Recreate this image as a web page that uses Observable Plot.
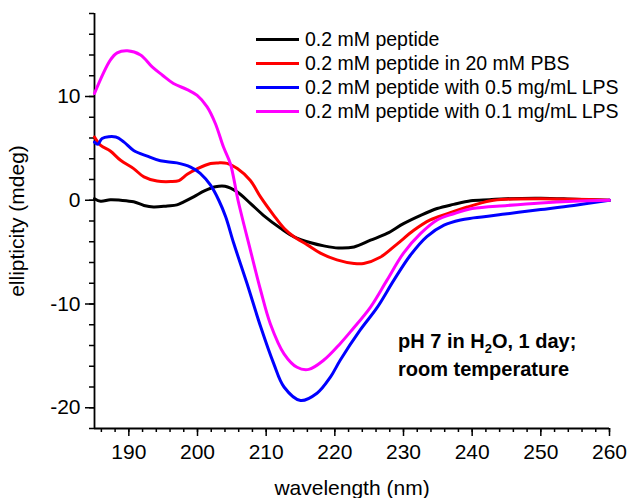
<!DOCTYPE html>
<html>
<head>
<meta charset="utf-8">
<script src="https://cdn.jsdelivr.net/npm/d3@7"></script>
<script src="https://cdn.jsdelivr.net/npm/@observablehq/plot@0.6"></script>
<style>
  body { margin: 0; background: #fff; font-family: "Liberation Sans", Arial, sans-serif; }
  #wrap { position: relative; width: 629px; height: 498px; }
  .legend { position: absolute; left: 256px; top: 27px; font-size: 19.5px; color: #000; }
  .legend .row { height: 24px; display: flex; align-items: center; white-space: nowrap; }
  .legend .sw { width: 43px; height: 3px; margin-right: 6px; }
  .note { position: absolute; left: 398px; top: 327px; font-weight: bold; font-size: 20px; line-height: 28px; color: #000; white-space: nowrap; }
  .note sub { font-size: 13px; line-height: 0; vertical-align: -0.35em; }
</style>
</head>
<body>
<div id="wrap"></div>
<script>
// ---- data ----
const seriesNames = [
  "0.2 mM peptide",
  "0.2 mM peptide in 20 mM PBS",
  "0.2 mM peptide with 0.5 mg/mL LPS",
  "0.2 mM peptide with 0.1 mg/mL LPS"
];
const seriesColors = ["#000000", "#ff0000", "#0000ff", "#ff00ff"];

const peptideWl = [185,185.9,187.3,188.8,190.7,192.2,193.6,195.6,197.0,198.0,199.5,201.0,202.6,204.0,205.8,207.7,209.6,212.1,214.0,216.5,218.4,220.5,222.8,225.2,227.6,230.0,232.5,234.9,237.3,239.8,242.5,245,250,255,260];
const peptideV  = [0.15,-0.1,0.05,0.0,-0.15,-0.5,-0.65,-0.55,-0.45,-0.15,0.35,0.9,1.3,1.35,0.8,-0.3,-1.45,-2.7,-3.5,-4.1,-4.4,-4.6,-4.5,-3.85,-3.2,-2.25,-1.45,-0.8,-0.4,-0.05,0.05,0.15,0.2,0.1,0.0];

const pbsWl = [185,185.9,187.3,188.8,190.7,192.2,194.1,196.1,197.3,198.5,200.0,201.9,203.0,204.3,205.8,207.7,209.2,211.1,212.6,214.0,216.0,217.9,220.3,222.8,224.2,226.6,229.1,231.5,233.9,236.4,239.3,242.7,245,250,255,260];
const pbsV  = [6.1,5.3,4.75,3.85,3.05,2.25,1.85,1.8,1.9,2.5,3.05,3.55,3.6,3.55,3.05,1.9,0.3,-1.45,-2.7,-3.5,-4.3,-5.1,-5.75,-6.1,-6.1,-5.5,-4.2,-2.9,-1.9,-1.3,-0.65,-0.05,0.1,0.15,0.1,0.0];

const lps05Wl = [185,185.5,186.1,188.1,189.3,190.7,192.7,194.6,197.0,199.0,200.4,201.9,203.1,204.1,205.3,207.2,209.2,211.1,212.6,215.0,217.4,219.4,220.8,223.7,226.2,228.6,231.0,233.4,235.9,238.3,240.2,245.1,250.0,254.8,260];
const lps05V  = [5.6,5.4,5.95,6.1,5.6,4.8,4.25,3.8,3.6,3.2,2.6,1.45,0.0,-1.6,-4.2,-8.0,-12.2,-15.75,-18.0,-19.3,-18.6,-17.0,-15.4,-12.5,-10.3,-7.7,-5.3,-3.5,-2.4,-1.9,-1.7,-1.3,-0.9,-0.5,0.0];

const lps01Wl = [185,187.3,188.3,189.8,191.7,193.4,194.9,196.5,198.5,199.95,201.4,202.6,203.8,204.8,205.9,207.7,209.2,210.6,212.6,214.5,216.2,218.4,220.8,222.5,225.2,227.6,230.0,232.5,234.9,237.3,240.0,245.1,250,254.8,260];
const lps01V  = [10.3,13.5,14.2,14.4,14.0,12.85,12.05,11.25,10.67,10.1,9.0,7.4,5.1,3.5,0.0,-4.8,-8.7,-11.9,-14.8,-16.1,-16.3,-15.4,-13.8,-12.5,-10.3,-7.7,-5.1,-3.2,-1.9,-1.3,-0.8,-0.5,-0.26,-0.1,0.0];

const xMajorTicks = [190,200,210,220,230,240,250,260];
const xMinorTicks = d3.range(186, 261, 2);
const yMajorTicks = [-20,-10,0,10];
const yMinorTicks = d3.range(-22, 19, 2);
const xDomain = [185, 260];
const yDomain = [-22, 18];

// ---- build table ----
const wls = [peptideWl, pbsWl, lps05Wl, lps01Wl];
const vals = [peptideV, pbsV, lps05V, lps01V];
const rows = [];
seriesNames.forEach((name, i) => {
  wls[i].forEach((w, j) => rows.push({series: name, wl: w, v: vals[i][j]}));
});

const plainFormat = d => String(d);

const chart = Plot.plot({
  width: 629,
  height: 498,
  marginLeft: 94,
  marginRight: 20,
  marginTop: 13,
  marginBottom: 70,
  x: {domain: xDomain},
  y: {domain: yDomain},
  color: {domain: seriesNames, range: seriesColors},
  style: {fontFamily: "'Liberation Sans', Arial, sans-serif", fontSize: "21px", color: "#000", background: "#fff", overflow: "visible"},
  marks: [
    Plot.axisX({ticks: xMinorTicks, tickSize: 4, tickFormat: () => "", label: null, strokeWidth: 1.5}),
    Plot.axisX({ticks: xMajorTicks, tickSize: 8, tickPadding: 8, strokeWidth: 1.5, tickFormat: plainFormat,
      label: "wavelength (nm)", labelAnchor: "center", labelArrow: "none", labelOffset: 66}),
    Plot.axisY({ticks: yMinorTicks, tickSize: 5, tickFormat: () => "", label: null, strokeWidth: 1.5}),
    Plot.axisY({ticks: yMajorTicks, tickSize: 9, tickPadding: 5, strokeWidth: 1.5, tickFormat: plainFormat,
      label: "ellipticity (mdeg)", labelAnchor: "center", labelArrow: "none", labelOffset: 85}),
    Plot.ruleX([xDomain[0]], {strokeWidth: 1.8}),
    Plot.ruleY([yDomain[0]], {strokeWidth: 1.8}),
    Plot.line(rows, {x: "wl", y: "v", z: "series", stroke: "series", strokeWidth: 3, curve: "catmull-rom"})
  ]
});

const wrap = document.getElementById("wrap");
wrap.appendChild(chart);

// legend
const legend = document.createElement("div");
legend.className = "legend";
seriesNames.forEach((name, i) => {
  const row = document.createElement("div");
  row.className = "row";
  const sw = document.createElement("span");
  sw.className = "sw";
  sw.style.background = seriesColors[i];
  const t = document.createElement("span");
  t.textContent = name;
  row.appendChild(sw);
  row.appendChild(t);
  legend.appendChild(row);
});
wrap.appendChild(legend);

// annotation
const note = document.createElement("div");
note.className = "note";
note.innerHTML = "pH 7 in H<sub>2</sub>O, 1 day;<br>room temperature";
wrap.appendChild(note);
</script>
</body>
</html>
